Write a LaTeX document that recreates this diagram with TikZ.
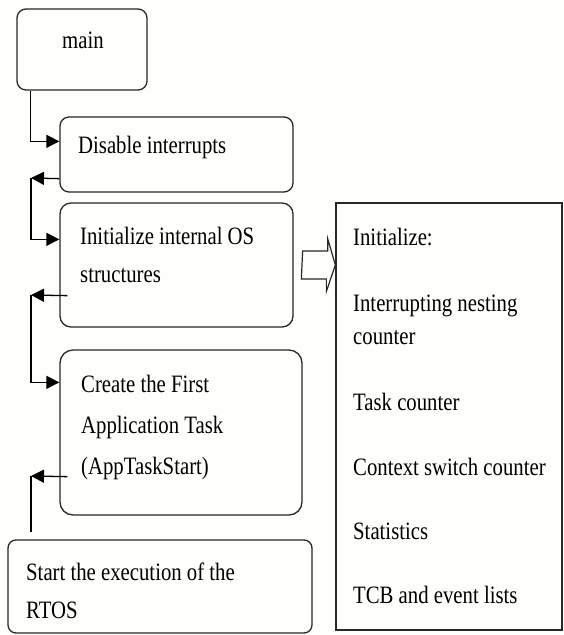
\documentclass[tikz,border=0pt]{standalone}
\usepackage{fontspec}
\setmainfont[FakeStretch=0.83]{Liberation Serif}
\usetikzlibrary{arrows.meta,calc}
\definecolor{paper}{RGB}{254,254,250}
\definecolor{ink}{RGB}{40,40,40}
\begin{document}
\begin{tikzpicture}[x=1pt,y=1pt,
  box/.style={draw=ink, line width=1.3pt, rounded corners=9pt, inner sep=0pt},
  sqbox/.style={draw=ink, line width=1.3pt, inner sep=0pt},
  % multi-line texts are placed by the baseline of their last line
  txt/.style={anchor=base west, inner sep=0pt, align=left,
              font=\fontsize{25}{38}\selectfont},
  flow/.style={draw=black, line width=1.3pt, -{Triangle[length=13pt,width=13pt]}},
  plainline/.style={draw=black, line width=1.3pt}]
  % page
  \fill[paper] (0,0) rectangle (563,-635);
  \useasboundingbox (0,0) rectangle (563,-635);

  % boxes
  \node[box, minimum width=130pt, minimum height=81pt] (main) at (82,-49.5) {};
  \node[box, minimum width=233pt, minimum height=75pt] (dis) at (176.5,-154.5) {};
  \node[box, rounded corners=11pt, minimum width=233pt, minimum height=124pt] (init) at (176.5,-265) {};
  \node[box, rounded corners=13pt, minimum width=242pt, minimum height=165pt] (create) at (181,-432.5) {};
  \node[box, rounded corners=8pt, minimum width=304pt, minimum height=93pt] (start) at (160,-586.5) {};
  \node[sqbox, minimum width=226pt, minimum height=427pt] (rbox) at (449,-416.5) {};

  % box texts
  \node[txt] (main-t) at (62,-48) {main};
  \node[txt] (dis-t) at (78,-153) {Disable interrupts};
  \node[txt] (init-t) at (80,-282) {Initialize internal OS\\structures};
  \node[txt, font=\fontsize{25}{41}\selectfont] (create-t) at (81,-474)
    {Create the First\\Application Task\\(AppTaskStart)};
  \node[txt] (start-t) at (26,-618) {Start the execution of the\\RTOS};

  % list of initialised items
  \node[txt] (r1) at (353,-245) {Initialize:};
  \node[txt, font=\fontsize{25}{33}\selectfont] (r2) at (353,-344) {Interrupting nesting\\counter};
  \node[txt] (r3) at (353,-410) {Task counter};
  \node[txt] (r4) at (353,-475) {Context switch counter};
  \node[txt] (r5) at (353,-539) {Statistics};
  \node[txt] (r6) at (353,-603) {TCB and event lists};

  % bend points of the return lines
  \coordinate (c1) at (31,-178);
  \coordinate (c2) at (31,-295);
  \coordinate (c3) at (31,-476);
  \coordinate (c4) at (31,-532);

  % connectors
  \draw[flow] ($(main.south west)+(14,0)$) |- ($(dis.north west)+(0,-25)$);
  \draw[flow] ($(dis.south west)+(0,14)$) -- (c1);
  \draw[flow] (c1) |- ($(init.north west)+(0,-37)$);
  \draw[flow] ($(init.south west)+(8,32)$) -- (c2);
  \draw[flow] (c2) |- ($(create.north west)+(0,-33)$);
  \draw[flow] ($(create.south west)+(8,39)$) -- (c3);
  \draw[plainline] (c3) -- (c4);

  % hollow block arrow to the list
  \draw[draw=ink, line width=1.2pt, fill=paper, line join=miter]
    ($(init.east)+(9,14)$) -- ++(25,0) -- ++(0,12.5) -- (rbox.west |- init.east)
    -- ++(-9,-26.5) -- ++(0,12.5) -- ++(-25,0) -- cycle;
\end{tikzpicture}
\end{document}
